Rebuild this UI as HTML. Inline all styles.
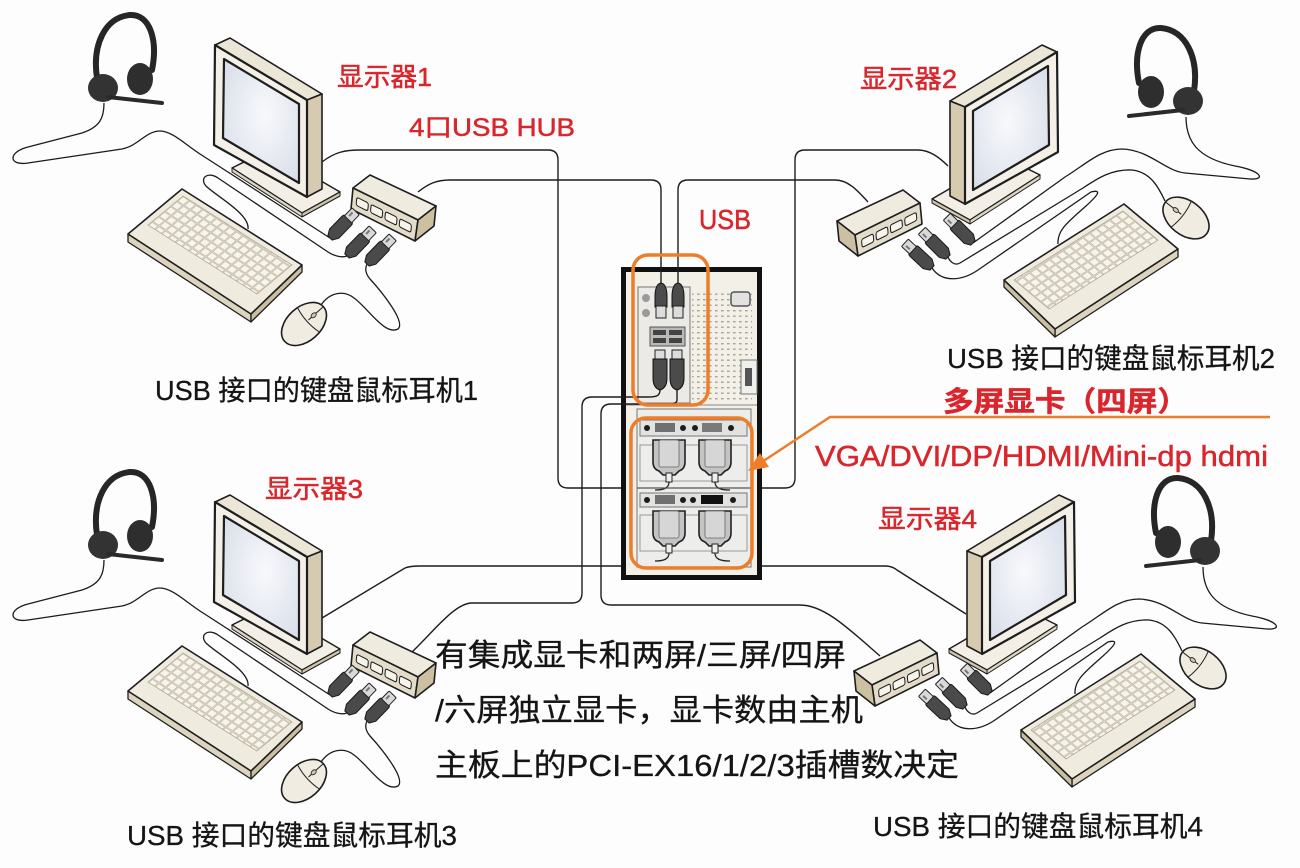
<!DOCTYPE html>
<html><head><meta charset="utf-8"><style>
html,body{margin:0;padding:0;background:#fdfdfd;}
svg{display:block;}
text{font-family:"Liberation Sans","Noto Sans CJK SC",sans-serif;}
</style></head><body>
<svg width="1300" height="868" viewBox="0 0 1300 868" xmlns="http://www.w3.org/2000/svg">
<defs>
 <radialGradient id="scr" cx="0.55" cy="0.45" r="0.75">
  <stop offset="0" stop-color="#f8f9fc"/>
  <stop offset="1" stop-color="#d5dbe7"/>
 </radialGradient>
 <pattern id="keys" patternUnits="userSpaceOnUse" width="8" height="8" patternTransform="matrix(0.835,0.55,-0.768,0.64,183,196)">
  <rect x="0.6" y="0.6" width="6.8" height="6.8" fill="#f7f4ec" stroke="#c4bba8" stroke-width="0.8"/>
 </pattern>
 <pattern id="vent" patternUnits="userSpaceOnUse" width="6" height="5.5">
  <rect x="1" y="2" width="2.6" height="1.4" fill="#a8a397"/>
 </pattern>

 <g id="plug">
  <path d="M0,-3 L6,-6.5 L24,-6.5 Q27,-6.5 27,-3.5 L27,3.5 Q27,6.5 24,6.5 L6,6.5 L0,3 Z" fill="#4a4a4a" stroke="#1a1a1a" stroke-width="1"/>
  <rect x="26" y="-5" width="11" height="10" rx="1" fill="#d9d9d9" stroke="#222" stroke-width="1"/>
  <rect x="29" y="-2.5" width="5" height="2" fill="#777"/>
 </g>

 <g id="hs">
  <path d="M97,78 C92,45 105,17 130,15 C150,14 158,40 152,70" fill="none" stroke="#262626" stroke-width="6" stroke-linecap="round"/>
  <ellipse cx="140" cy="79" rx="13" ry="16" fill="#2e2e2e"/>
  <ellipse cx="103" cy="88" rx="15" ry="14" fill="#333"/>
  <line x1="108" y1="97" x2="162" y2="103" stroke="#2a2a2a" stroke-width="4" stroke-linecap="round"/>
 </g>

 <g id="mon" stroke="#1e1e1e" stroke-linejoin="round">
  <polygon points="232,168 268,150 340,192 302,213" fill="#f3efe6" stroke-width="1.5"/>
  <polygon points="232,168 302,213 302,217 232,172" fill="#ddd5c2" stroke-width="1"/>
  <polygon points="302,213 340,192 340,196 302,217" fill="#cfc5ad" stroke-width="1"/>
  <polygon points="215,45 230,38 322,94 307,100" fill="#ece6d6" stroke-width="1.6"/>
  <polygon points="307,100 322,94 322,189 307,197" fill="#d6cbb1" stroke-width="1.6"/>
  <polygon points="215,45 307,100 307,197 214,145" fill="#f4f0e7" stroke-width="2.2"/>
  <polygon points="224,59 299,104 299,183 223,138" fill="url(#scr)" stroke-width="2.2"/>
 </g>

 <g id="kb" stroke="#1e1e1e" stroke-linejoin="round">
  <polygon points="128,234 251,314 251,322 128,242" fill="#ddd4bf" stroke-width="1.3"/>
  <polygon points="251,314 302,265 302,272 251,322" fill="#cbbfa3" stroke-width="1.3"/>
  <polygon points="128,234 182,189 302,265 251,314" fill="#f0ebdf" stroke-width="1.6"/>
  <polygon points="183,196 292,265 257,294 148,225" fill="url(#keys)" stroke="#b5ab95" stroke-width="0.8"/>
 </g>

 <g id="hub" stroke="#1e1e1e" stroke-linejoin="round">
  <polygon points="353,188 370,175 436,206 418,220" fill="#f0ebdf" stroke-width="1.6"/>
  <polygon points="353,188 418,220 415,241 351,209" fill="#e4dccb" stroke-width="1.6"/>
  <polygon points="418,220 436,206 434,226 415,241" fill="#cdbfa2" stroke-width="1.6"/>
  <g transform="matrix(0.897,0.447,-0.095,1,353,188)" fill="#f7f4ec" stroke-width="1.1">
   <rect x="5" y="7" width="13" height="8" rx="2"/>
   <rect x="21" y="7" width="13" height="8" rx="2"/>
   <rect x="37" y="7" width="13" height="8" rx="2"/>
   <rect x="53" y="7" width="13" height="8" rx="2"/>
  </g>
 </g>

 <g id="mouse" stroke="#1e1e1e">
  <ellipse rx="26" ry="17" fill="#f1ece1" stroke-width="1.6"/>
  <path d="M6,-16 Q2,0 6,16" fill="none" stroke-width="1"/>
  <line x1="6" y1="0" x2="26" y2="0" stroke-width="1"/>
  <ellipse cx="13" cy="0" rx="3" ry="2" fill="#cfc6b3" stroke-width="0.8"/>
 </g>

 <g id="ws1">
  <g fill="none" stroke="#1c1c1c" stroke-width="1.3">
   <path d="M104,103 C104,118 100,127 82,133 L28,147 C8,152 8,166 28,163 L122,149 C138,146 146,131 160,131 C172,131 186,145 200,154 L330,238"/>
   <path d="M248,229 C250,214 216,196 206,186 C199,178 208,171 218,178 L328,252 C334,256 342,258 347,256"/>
   <path d="M321,305 C330,292 344,290 354,298 C368,308 385,336 398,329 C406,322 382,292 370,279 C365,273 365,268 367,264"/>
  </g>
  <use href="#hs"/>
  <use href="#mon"/>
  <use href="#kb"/>
  <use href="#mouse" transform="translate(304,324) rotate(-42)"/>
  <use href="#hub"/>
  <use href="#plug" transform="translate(330,238) rotate(-46)"/>
  <use href="#plug" transform="translate(347,256) rotate(-46)"/>
  <use href="#plug" transform="translate(367,264) rotate(-46)"/>
 </g>

 <g id="ws2">
  <g fill="none" stroke="#1c1c1c" stroke-width="1.3">
   <path d="M1186,117 C1186,140 1196,158 1235,166 C1262,171 1266,180 1250,179 L1185,173 C1165,171 1150,150 1122,149 C1100,149 1085,165 1065,177 L973,243"/>
   <path d="M1165,201 C1158,186 1150,172 1132,170 C1112,169 1098,178 1083,188 L960,263 C955,266 950,262 948,257"/>
   <path d="M1058,244 C1057,230 1068,222 1086,206 C1097,196 1103,189 1091,192 L978,270 C962,281 942,283 932,268"/>
  </g>
  <use href="#hs" transform="translate(1291,13) scale(-1,1)"/>
  <use href="#mon" transform="translate(1272,7) scale(-1,1)"/>
  <use href="#kb" transform="translate(1306,15) scale(-1,1)"/>
  <use href="#mouse" transform="translate(1186,218) rotate(218)"/>
  <use href="#hub" transform="translate(1273,15) scale(-1,1)"/>
  <use href="#plug" transform="translate(973,243) rotate(-135)"/>
  <use href="#plug" transform="translate(948,257) rotate(-135)"/>
  <use href="#plug" transform="translate(932,268) rotate(-137)"/>
 </g>

 <g id="vga">
  <path d="M2,4 L2,26 Q2,33 8,35 L12,39 L24,39 L28,35 Q34,33 34,26 L34,4 Z" fill="#c4c4c4" stroke="#222" stroke-width="1.6"/>
  <rect x="8" y="4" width="20" height="27" rx="2" fill="#d6d6d6" stroke="#666" stroke-width="0.8"/>
  <rect x="15" y="37" width="6" height="9" fill="#eee" stroke="#222" stroke-width="1"/>
 </g>
</defs>

<rect x="0" y="0" width="1300" height="868" fill="#fdfdfd"/>

<g fill="none" stroke="#1c1c1c" stroke-width="1.4">
 <path d="M322,162 C335,152 345,150 360,150 L548,150 Q558,150 558,160 L558,478 Q558,488 568,488 L785,488 Q795,488 795,478 L795,160 Q795,150 805,150 L918,150 C930,150 940,158 948,166"/>
 <path d="M322,618 L405,568 Q410,566 420,566 L885,566 Q892,566 897,570 L966,614"/>
</g>

<use href="#ws1"/>
<use href="#ws1" transform="translate(0,457)"/>
<use href="#ws2"/>
<use href="#ws2" transform="translate(17,450)"/>

<g>
 <rect x="623.5" y="269.5" width="136" height="308" fill="#f3f0e8" stroke="#111" stroke-width="5"/>
 <rect x="692" y="290" width="60" height="112" fill="url(#vent)"/>
 <rect x="638" y="287" width="52" height="116" fill="#ebeae6" stroke="#8a8a8a" stroke-width="1.2"/>
 <circle cx="646" cy="298" r="4" fill="#9a9a9a"/>
 <circle cx="646" cy="313" r="4" fill="#9a9a9a"/>
 <rect x="650" y="327" width="35" height="19" fill="#b9b9b7" stroke="#555"/>
 <rect x="653" y="330" width="13" height="5" fill="#444"/>
 <rect x="669" y="330" width="13" height="5" fill="#444"/>
 <rect x="653" y="338" width="13" height="5" fill="#444"/>
 <rect x="669" y="338" width="13" height="5" fill="#444"/>
 <rect x="731" y="292" width="19" height="14" rx="3" fill="#e2e2e0" stroke="#555" stroke-width="1.5"/>
 <rect x="741" y="360" width="16" height="34" fill="#efefed" stroke="#777"/>
 <rect x="745" y="368" width="7" height="18" fill="#555"/>
 <line x1="626" y1="405" x2="757" y2="405" stroke="#888"/>
 <path d="M655,297 Q655,284 661,283 Q667,284 667,297 L667,307 L655,307 Z" fill="#4b4b4b" stroke="#111"/>
 <rect x="656" y="306" width="10" height="12" fill="#dcdcdc" stroke="#222"/>
 <path d="M672,297 Q672,284 678,283 Q684,284 684,297 L684,307 L672,307 Z" fill="#4b4b4b" stroke="#111"/>
 <rect x="673" y="306" width="10" height="12" fill="#dcdcdc" stroke="#222"/>
 <rect x="655" y="350" width="10" height="9" fill="#dcdcdc" stroke="#222"/>
 <path d="M653,359 L667,359 L667,378 Q667,388 660,390 Q653,388 653,378 Z" fill="#4b4b4b" stroke="#111"/>
 <rect x="672" y="350" width="10" height="9" fill="#dcdcdc" stroke="#222"/>
 <path d="M670,359 L684,359 L684,378 Q684,388 677,390 Q670,388 670,378 Z" fill="#4b4b4b" stroke="#111"/>
 <rect x="637" y="409" width="114" height="158" fill="#ededeb" stroke="#8a8a8a" stroke-width="1.2"/>
 <rect x="640" y="420" width="107" height="16" fill="#e2e2e0" stroke="#777"/>
 <rect x="655" y="423" width="20" height="9" fill="#707070"/>
 <rect x="702" y="423" width="20" height="9" fill="#7a7a7a"/>
 <circle cx="647" cy="428" r="3" fill="#1c1c1c"/>
 <circle cx="683" cy="428" r="3" fill="#1c1c1c"/>
 <circle cx="695" cy="428" r="3" fill="#1c1c1c"/>
 <circle cx="731" cy="428" r="3" fill="#1c1c1c"/>
 <rect x="640" y="445" width="107" height="36" fill="none" stroke="#999"/>
 <use href="#vga" transform="translate(651,436)"/>
 <use href="#vga" transform="translate(697,436)"/>
 <path d="M669,482 C669,488 664,490 655,490" fill="none" stroke="#222" stroke-width="1.3"/>
 <path d="M715,482 C715,488 720,490 730,490" fill="none" stroke="#222" stroke-width="1.3"/>
 <line x1="637" y1="488" x2="751" y2="488" stroke="#555" stroke-width="1.2"/>
 <rect x="640" y="493" width="107" height="14" fill="#e2e2e0" stroke="#777"/>
 <rect x="655" y="495" width="20" height="9" fill="#707070"/>
 <rect x="701" y="495" width="22" height="9" fill="#111"/>
 <circle cx="647" cy="500" r="3" fill="#1c1c1c"/>
 <circle cx="683" cy="500" r="3" fill="#1c1c1c"/>
 <circle cx="693" cy="500" r="3" fill="#1c1c1c"/>
 <circle cx="733" cy="500" r="3" fill="#1c1c1c"/>
 <rect x="640" y="515" width="107" height="36" fill="none" stroke="#999"/>
 <use href="#vga" transform="translate(651,507)"/>
 <use href="#vga" transform="translate(697,507)"/>
 <path d="M669,553 C669,559 664,561 655,561" fill="none" stroke="#222" stroke-width="1.3"/>
 <path d="M715,553 C715,559 720,561 730,561" fill="none" stroke="#222" stroke-width="1.3"/>
</g>

<g fill="none" stroke="#1c1c1c" stroke-width="1.4">
 <path d="M418,192 C428,184 436,180 450,180 L651,180 Q661,180 661,190 L661,283"/>
 <path d="M678,283 L678,190 Q678,180 688,180 L835,180 C848,180 857,190 868,202"/>
 <path d="M660,390 C660,396 656,397 648,397 L592,397 Q582,397 582,407 L582,593 Q582,603 572,603 L472,603 C455,603 435,630 412,652"/>
 <path d="M677,390 L677,400 Q677,404 669,404 L611,404 Q601,404 601,414 L601,595 Q601,605 611,605 L800,605 C825,605 850,630 880,656"/>
</g>

<g fill="none" stroke="#ee7d2a" stroke-width="3.5">
 <rect x="633" y="255" width="75" height="150" rx="15"/>
 <rect x="631" y="418" width="121" height="150" rx="15"/>
</g>
<polyline points="1270,417 830,417 762,462" fill="none" stroke="#ee7d2a" stroke-width="2.5"/>
<polygon points="748,471 769,467 760,453" fill="#ee7d2a"/>

<g fill="#d9262c" stroke="#d9262c" stroke-width="0.5">
 <text x="337" y="86" font-size="26" textLength="95" lengthAdjust="spacingAndGlyphs">显示器1</text>
 <text x="409" y="136" font-size="25" textLength="166" lengthAdjust="spacingAndGlyphs">4口USB HUB</text>
 <text x="699" y="229" font-size="28" textLength="52" lengthAdjust="spacingAndGlyphs">USB</text>
 <text x="860" y="88" font-size="26" textLength="97" lengthAdjust="spacingAndGlyphs">显示器2</text>
 <text x="943" y="411" font-size="28" font-weight="bold" textLength="245" lengthAdjust="spacingAndGlyphs">多屏显卡（四屏）</text>
 <text x="815" y="466" font-size="29" textLength="453" lengthAdjust="spacingAndGlyphs">VGA/DVI/DP/HDMI/Mini-dp hdmi</text>
 <text x="265" y="498" font-size="26" textLength="98" lengthAdjust="spacingAndGlyphs">显示器3</text>
 <text x="878" y="528" font-size="26" textLength="99" lengthAdjust="spacingAndGlyphs">显示器4</text>
</g>
<g fill="#151515" stroke="#151515" stroke-width="0.3">
 <text x="947" y="368" font-size="28" textLength="328" lengthAdjust="spacingAndGlyphs">USB 接口的键盘鼠标耳机2</text>
 <text x="155" y="400" font-size="28" textLength="323" lengthAdjust="spacingAndGlyphs">USB 接口的键盘鼠标耳机1</text>
 <text x="127" y="845" font-size="28" textLength="330" lengthAdjust="spacingAndGlyphs">USB 接口的键盘鼠标耳机3</text>
 <text x="873" y="836" font-size="28" textLength="330" lengthAdjust="spacingAndGlyphs">USB 接口的键盘鼠标耳机4</text>
 <text x="435" y="666" font-size="31" textLength="411" lengthAdjust="spacingAndGlyphs">有集成显卡和两屏/三屏/四屏</text>
 <text x="435" y="721" font-size="31" textLength="428" lengthAdjust="spacingAndGlyphs">/六屏独立显卡，显卡数由主机</text>
 <text x="435" y="776" font-size="31" textLength="524" lengthAdjust="spacingAndGlyphs">主板上的PCI-EX16/1/2/3插槽数决定</text>
</g>
</svg>
</body></html>
